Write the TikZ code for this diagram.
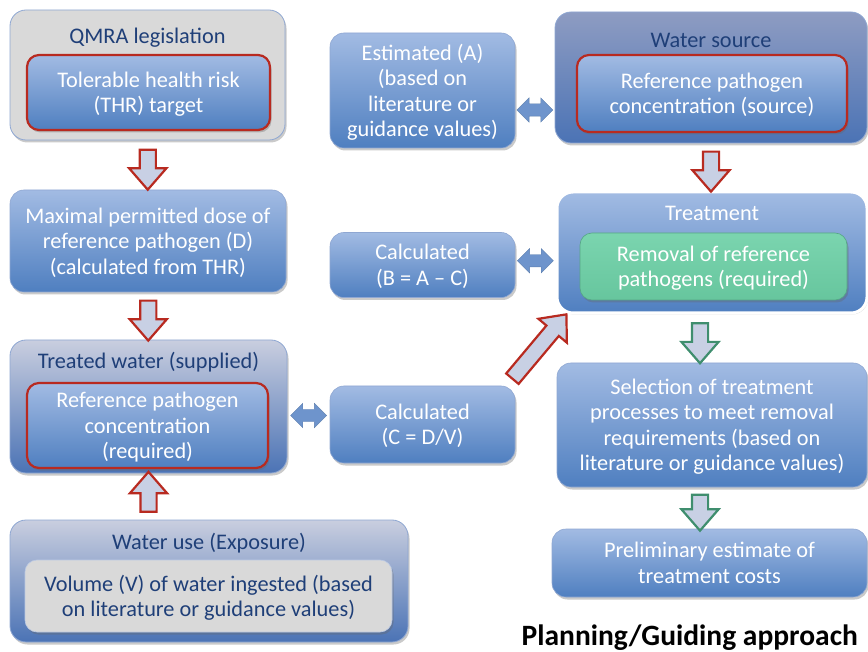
\documentclass[tikz,border=0pt]{standalone}
\usepackage{fontspec}
\setmainfont{Carlito}
\usetikzlibrary{shapes.arrows,shadows,calc}

\definecolor{boxtop}{HTML}{A2BBE3}
\definecolor{boxbot}{HTML}{4F7FC0}
\definecolor{titleblue}{HTML}{1F3F78}
\definecolor{redline}{HTML}{B82A20}
\definecolor{greenline}{HTML}{3F8E6E}
\definecolor{arrowfill}{HTML}{C8D0E4}
\definecolor{graybox}{HTML}{D9D9D9}
\definecolor{frametop}{HTML}{C9CEDF}
\definecolor{framebot}{HTML}{4B73B5}
\definecolor{srctop}{HTML}{8E9CC2}
\definecolor{greenbox}{HTML}{6CD0A6}
\definecolor{dblblue}{HTML}{6E94CC}
\definecolor{edgeblue}{HTML}{8FA7D2}

\tikzset{
  txt/.style={font=\fontsize{22.3}{25.5}\selectfont, align=center, text=white, inner sep=0pt,
    text depth=0pt},
  shadowed/.style={drop shadow={shadow xshift=1.5pt, shadow yshift=-2.5pt, opacity=0.35, fill=black!60}},
  bluebox/.style={txt, rounded corners=14pt, top color=boxtop, bottom color=boxbot,
    draw=edgeblue, line width=0.6pt, shadowed},
  redbox/.style={bluebox, draw=redline, line width=2.2pt, rounded corners=12pt},
  framebox/.style={rounded corners=16pt, top color=frametop, bottom color=framebot,
    draw=edgeblue, line width=0.8pt, shadowed},
  graybg/.style={rounded corners=16pt, fill=graybox, draw=edgeblue, line width=0.8pt, shadowed},
  grayinner/.style={txt, text=titleblue, rounded corners=12pt, fill=graybox, draw=edgeblue!60, line width=0.6pt, shadowed},
  greeninner/.style={txt, rounded corners=12pt, top color=greenbox!90!white, bottom color=greenbox!95!black,
    draw=greenbox!80!black, line width=0.6pt, shadowed},
  titletxt/.style={font=\fontsize{22.3}{25.5}\selectfont, text=titleblue, inner sep=0pt},
  blockarrow/.style={single arrow, inner xsep=0pt, inner ysep=7pt, minimum width=0pt, minimum height=40pt,
    single arrow head extend=10.5pt, single arrow tip angle=82, fill=arrowfill, line width=2.2pt},
  redarrow/.style={blockarrow, draw=redline},
  greenarrow/.style={blockarrow, draw=greenline},
  twoway/.style={double arrow, inner xsep=0pt, inner ysep=6pt, minimum width=0pt, minimum height=36pt,
    double arrow head extend=6pt, double arrow tip angle=90, fill=dblblue, draw=dblblue!85!black, line width=0.4pt}
}

\begin{document}
\begin{tikzpicture}[x=1pt, y=-1pt]
\useasboundingbox (0,0) rectangle (868,652);

% ---------- left column ----------
\node[graybg, minimum width=275pt, minimum height=130pt] (qmra) at (147.5,75) {};
\node[titletxt] (qmraT) at (147.5,38) {QMRA legislation};
\node[redbox, minimum width=243pt, minimum height=75pt] (thr) at (148.5,92.5)
  {Tolerable health risk\\(THR) target};

\node[bluebox, minimum width=276pt, minimum height=102pt] (dose) at (148,241)
  {Maximal permitted dose of\\reference pathogen (D)\\(calculated from THR)};

\node[framebox, minimum width=277pt, minimum height=133pt] (treated) at (148.5,406.5) {};
\node[titletxt] (treatedT) at (148.5,362) {Treated water (supplied)};
\node[redbox, minimum width=241pt, minimum height=85pt] (reqconc) at (147.5,425.5)
  {Reference pathogen\\concentration\\(required)};

\node[framebox, minimum width=398pt, minimum height=122pt] (use) at (209,581) {};
\node[titletxt] (useT) at (209,543) {Water use (Exposure)};
\node[grayinner, minimum width=367pt, minimum height=72pt] (volume) at (208.5,596)
  {Volume (V) of water ingested (based\\on literature or guidance values)};

% ---------- middle column ----------
\node[bluebox, minimum width=185pt, minimum height=115pt] (estA) at (422.5,90.5)
  {Estimated (A)\\(based on\\literature or\\guidance values)};
\node[bluebox, minimum width=185pt, minimum height=65pt] (calcB) at (422.5,265)
  {Calculated\\(B = A – C)};
\node[bluebox, minimum width=185pt, minimum height=77pt] (calcC) at (422.5,424.5)
  {Calculated\\(C = D/V)};

% ---------- right column ----------
\node[rounded corners=16pt, top color=srctop, bottom color=framebot, draw=edgeblue,
  line width=0.8pt, shadowed, minimum width=312pt, minimum height=131pt] (source) at (711,77.5) {};
\node[titletxt] (sourceT) at (711,40) {Water source};
\node[redbox, minimum width=270pt, minimum height=77pt] (srcconc) at (712,93.5)
  {Reference pathogen\\concentration (source)};

\node[rounded corners=16pt, top color=boxtop, bottom color=boxbot, draw=white, line width=3pt,
  drop shadow={shadow xshift=1pt, shadow yshift=-1.5pt, opacity=0.3, fill=black!50},
  minimum width=310pt, minimum height=121pt] (treat) at (712,252.5) {};
\node[titletxt, text=white] (treatT) at (712,213) {Treatment};
\node[greeninner, minimum width=267pt, minimum height=67pt] (removal) at (713.5,266.5)
  {Removal of reference\\pathogens (required)};

\node[bluebox, minimum width=310pt, minimum height=124pt] (select) at (712,425)
  {Selection of treatment\\processes to meet removal\\requirements (based on\\literature or guidance values)};
\node[bluebox, minimum width=315pt, minimum height=68pt] (prelim) at (709.5,563)
  {Preliminary estimate of\\treatment costs};

\node[anchor=base east, inner sep=0pt, font=\fontsize{29.5}{34}\selectfont\bfseries] (heading) at (858,645)
  {Planning/Guiding approach};

% ---------- block arrows ----------
\node[redarrow, rotate=-90] (a1) at ($(qmra.south)!0.5!(dose.north)$) {};
\node[redarrow, rotate=-90] (a2) at ($(dose.south)!0.5!(treated.north)$) {};
\node[redarrow, rotate=90] (a3) at ($(treated.south)!0.5!(treated.south |- use.north)$) {};
\node[redarrow, rotate=-90] (a4) at ($(source.south)!0.5!(source.south |- treat.north)$) {};
\node[greenarrow, rotate=-90] (a5) at ($(treat.south)!0.5!(select.north)+(-12,0)$) {};
\node[greenarrow, rotate=-90, minimum height=36pt] (a6) at ($(select.south)!0.5!(select.south |- prelim.north)+(-12,0)$) {};
\node[redarrow, rotate=50, minimum height=84pt] (a7) at ($(calcC.north east)!0.5!(treat.south west)+(1,0)$) {};

% ---------- two-way arrows ----------
\node[twoway] (d1) at ($(estA.east)!0.5!(source.west)+(0,26)$) {};
\node[twoway] (d2) at ($(calcB.east)!0.5!(treat.west)+(0,2)$) {};
\node[twoway] (d3) at ($(treated.east)!0.5!(calcC.west)$) {};
\end{tikzpicture}
\end{document}
